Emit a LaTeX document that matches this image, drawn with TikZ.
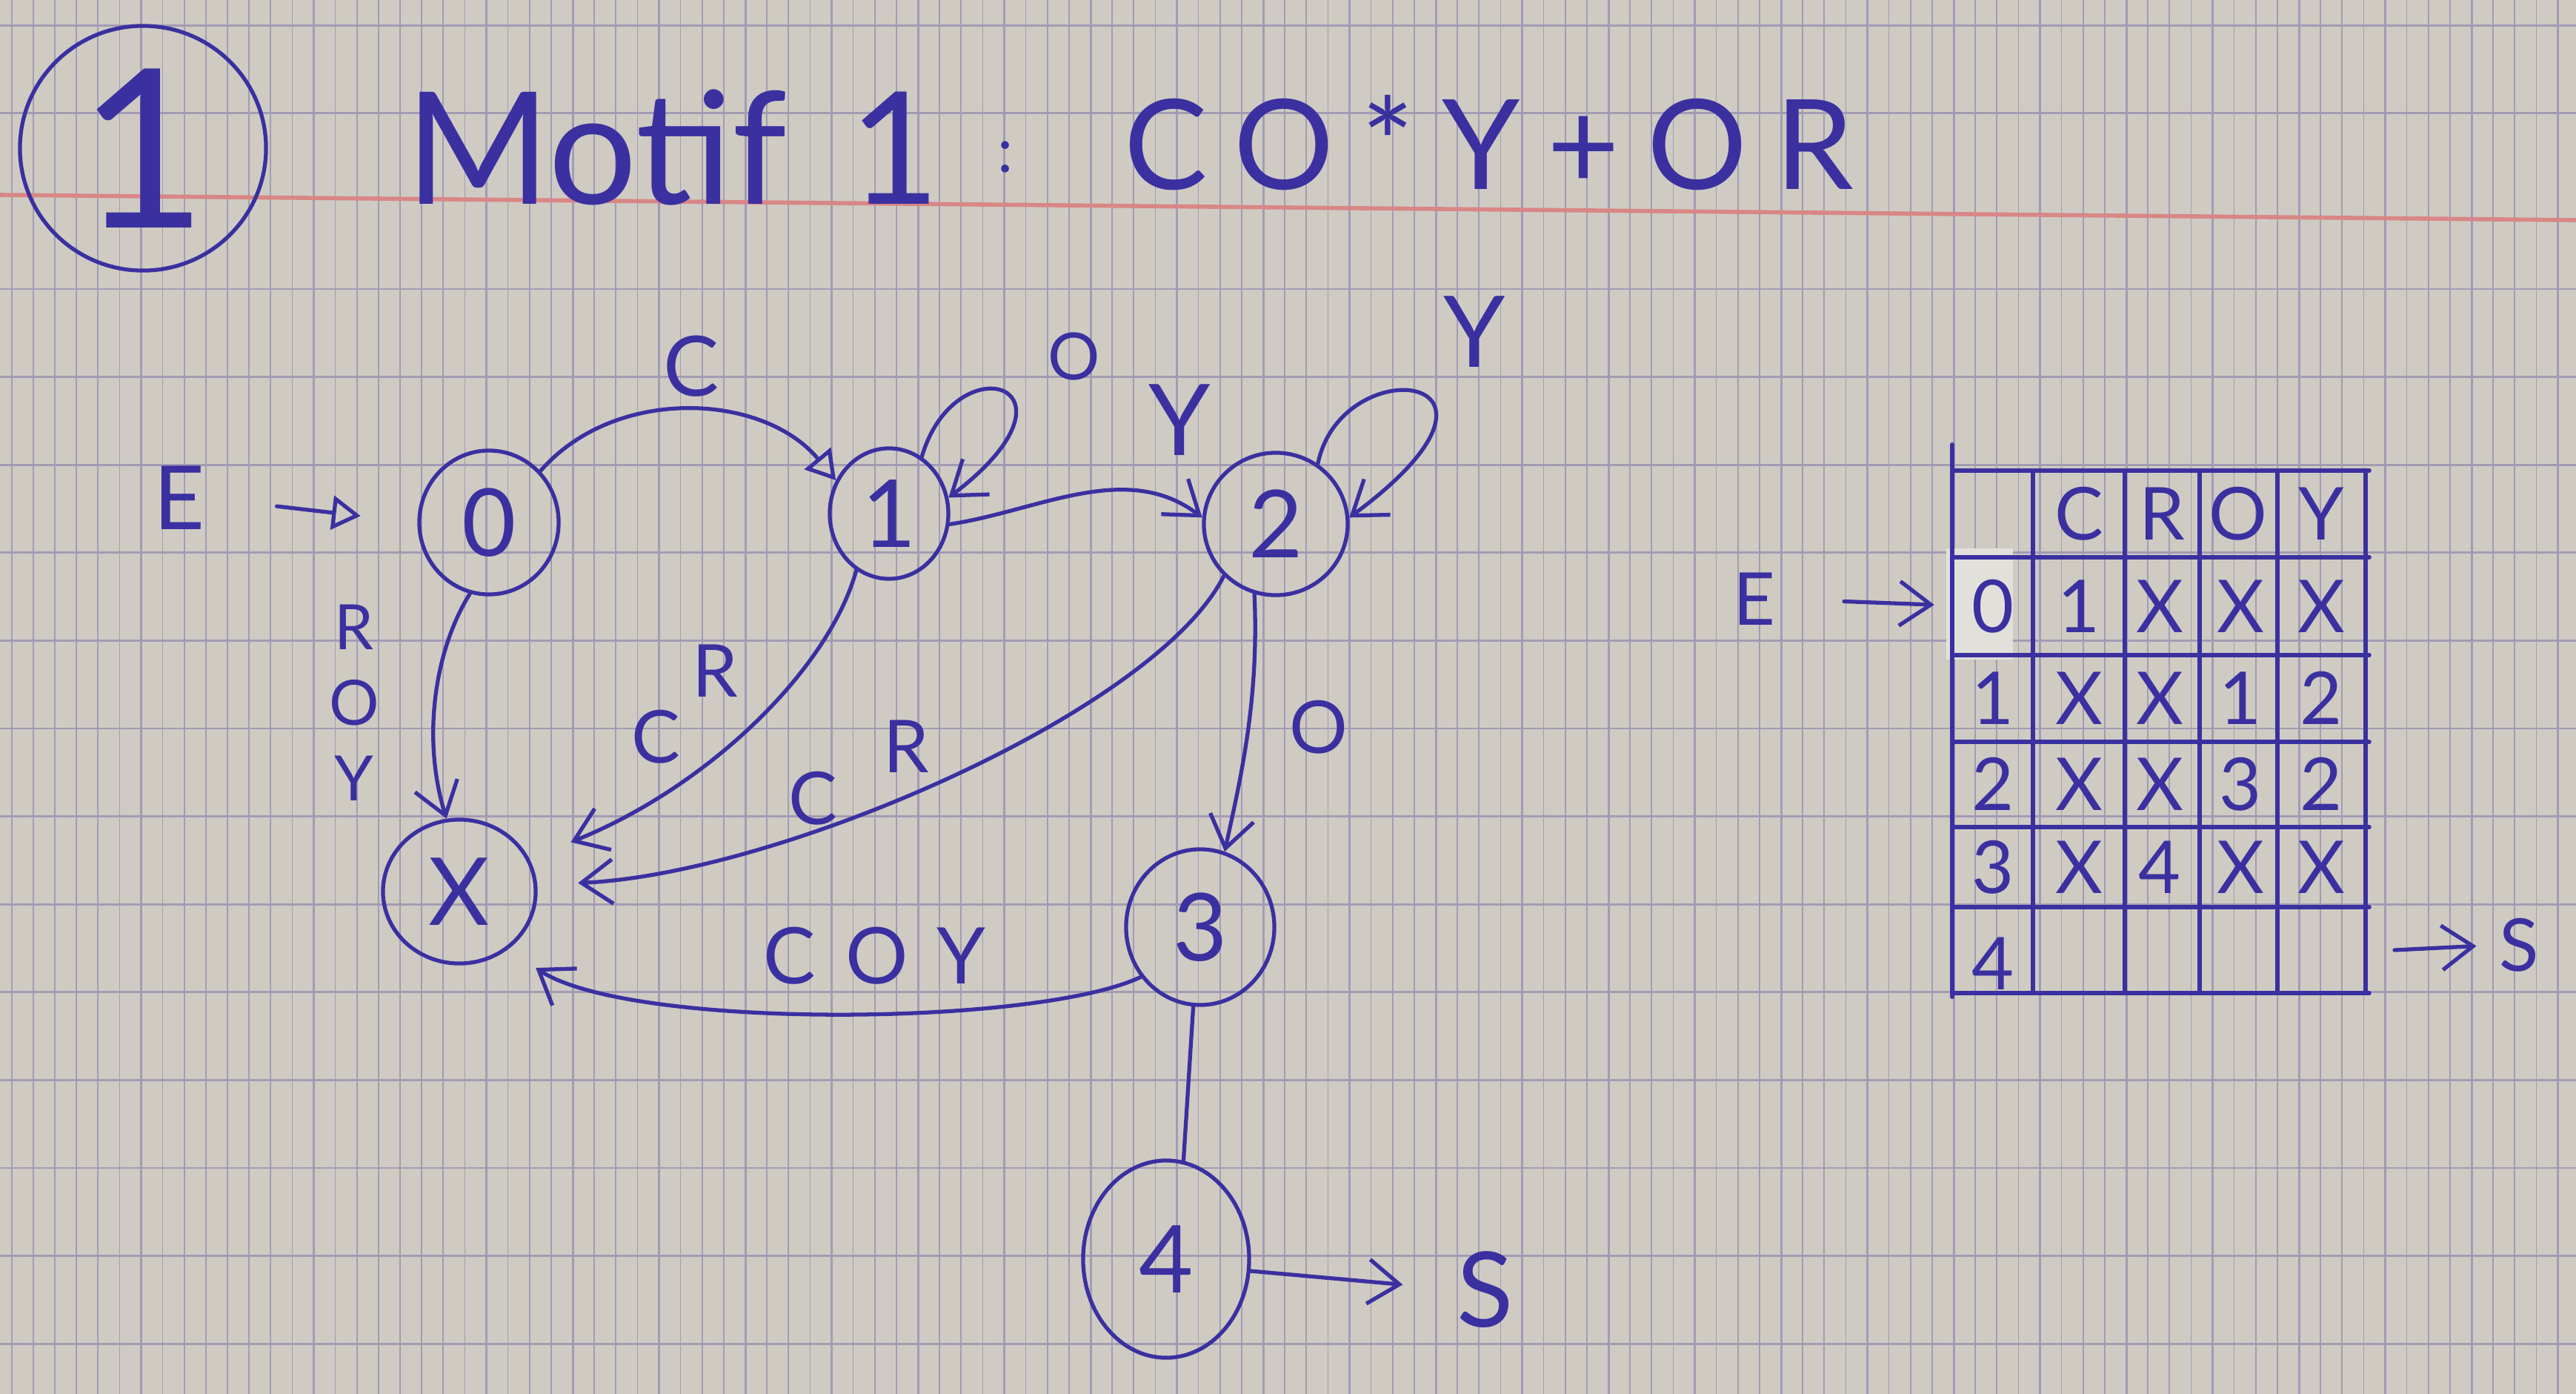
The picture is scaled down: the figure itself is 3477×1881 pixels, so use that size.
\documentclass[tikz,border=0pt]{standalone}
\usepackage{fontspec}
\setmainfont{Lato}
\usetikzlibrary{arrows.meta,shapes.geometric}
\definecolor{paper}{HTML}{CFCBC3}
\definecolor{gridc}{HTML}{A39BB4}
\definecolor{inkc}{HTML}{3A30A0}
\definecolor{redl}{HTML}{D98686}
\definecolor{patchc}{HTML}{E2E0DB}
\newcommand{\hsz}[1]{\fontsize{#1}{#1}\selectfont}
\begin{document}
\begin{tikzpicture}[x=0.01cm,y=-0.01cm,
  pen/.style={draw=inkc,line width=1.5pt,line cap=round,line join=round},
  st/.style={pen,ellipse,inner sep=0pt,text=inkc,font=\hsz{36}},
  lb/.style={text=inkc,inner sep=0pt},
  barb/.style={-{Straight Barb[length=12pt,width=17pt]}},
  tri/.style={-{Triangle[open,length=11pt,width=13pt]}},
  cell/.style={lb,font=\hsz{28}}
]
\useasboundingbox (0,0) rectangle (3477,1881);
% paper
\fill[paper] (0,0) rectangle (3477,1881);
\foreach \m in {-2,...,116} \draw[gridc,line width=0.45pt] ({74+29.125*\m},0) -- ++(0,1881);
\foreach \m in {0,...,29} \draw[gridc,line width=0.85pt] ({74+116.5*\m},0) -- ++(0,1881);
\foreach \k in {-3,-2,0,1,...,12} \draw[gridc,line width=0.8pt] (0,{390+118.6*\k}) -- (3477,{390+118.6*\k});
\draw[redl,line width=1.6pt] (0,263) -- (3477,297);

% title
\node[pen,ellipse,minimum width=3.32cm,minimum height=3.3cm,inner sep=0pt,text=inkc,font=\hsz{85}] (num) at (193,200) {1};
\node[lb,font=\hsz{60},anchor=base west] (motif) at (547,275) {Motif\hspace{0.4em}1};
\node[lb,font=\hsz{24}] (colon) at (1357,212) {:};
\node[lb,font=\hsz{48},anchor=base west] (regex) at (1517,255) {\addfontfeature{LetterSpace=22}CO*Y+OR};

% states
\node[st,minimum width=1.88cm,minimum height=1.94cm] (s0) at (660,705) {0};
\node[st,minimum width=1.6cm,minimum height=1.76cm] (s1) at (1200,693) {1};
\node[st,minimum width=1.94cm,minimum height=1.92cm] (s2) at (1722,707) {2};
\node[st,minimum width=2.06cm,minimum height=1.94cm] (sX) at (620,1203) {X};
\node[st,minimum width=2.0cm,minimum height=2.1cm] (s3) at (1620,1251) {3};
\node[st,minimum width=2.24cm,minimum height=2.66cm] (s4) at (1574,1699) {4};

% entry
\node[lb,font=\hsz{34}] (E) at (242,672) {E};
\draw[pen,tri,shorten <=0.97cm,shorten >=0.77cm] (E.east) -- (s0.west);

% transitions
\draw[pen,tri] (s0.45) .. controls (830,520) and (1030,530) .. (s1.148);
\node[lb,font=\hsz{32}] (lC01) at (933,494) {C};

\draw[pen,barb] (s1.60) .. controls (1290,460) and (1480,520) .. (s1.15);
\node[lb,font=\hsz{25}] (lO11) at (1450,481) {O};

\draw[pen,barb] (s1.-10) .. controls (1400,690) and (1520,620) .. (s2.175);
\node[lb,font=\hsz{38}] (lY12) at (1592,567) {Y};

\draw[pen,barb] (s2.55) .. controls (1810,470) and (2090,500) .. (s2.5);
\node[lb,font=\hsz{38}] (lY22) at (1990,448) {Y};

\draw[pen,barb] (s0.-105) .. controls (585,880) and (570,1000) .. (sX.100);
\node[lb,font=\fontsize{24}{29}\selectfont,align=center] (lROY) at (478,948) {R\\O\\Y};

\draw[pen,barb,shorten >=0.6cm] (s1.-120) .. controls (1120,900) and (960,1060) .. (sX.25);
\node[lb,font=\hsz{28}] (lC1X) at (885,994) {C};
\node[lb,font=\hsz{28}] (lR1X) at (965,905) {R};

\draw[pen,barb,shorten >=0.55cm] (s2.-135) .. controls (1560,960) and (1050,1180) .. (sX.5);
\node[lb,font=\hsz{28}] (lC2X) at (1097,1077) {C};
\node[lb,font=\hsz{28}] (lR2X) at (1223,1007) {R};

\draw[pen,barb] (s2.-107) .. controls (1700,950) and (1672,1060) .. (s3.72);
\node[lb,font=\hsz{28}] (lO23) at (1780,981) {O};

\draw[pen,barb,shorten >=0.45cm] (s3.-140) .. controls (1400,1385) and (850,1390) .. (sX.-50);
\node[lb,font=\hsz{30}] (lCOY) at (1180,1290) {\addfontfeature{LetterSpace=40}COY};

\draw[pen] (s3.-95) -- (s4.80);
\node[lb,font=\hsz{40}] (S) at (2005,1740) {S};
\draw[pen,barb,shorten >=0.73cm] (s4.-8) -- (S.west);

% table
\fill[patchc] (2627,740) rectangle (2717,890);
\draw[pen,line width=1.7pt] (2635,600) -- (2635,1345);
\foreach \x in {2744,2868,2969,3074,3193} \draw[pen,line width=1.6pt] (\x,635) -- (\x,1340);
\foreach \y in {635,752,884,1001,1116,1224,1340} \draw[pen,line width=1.6pt] (2635,\y) -- (3198,\y);
% header
\foreach \t/\x in {C/2806,R/2918,O/3021,Y/3133} \node[cell] (h-\t) at (\x,693) {\t};
% row labels
\foreach \t/\y in {0/818,1/942,2/1058,3/1170,4/1300} \node[cell] (r-\t) at (2690,\y) {\t};
% cells
\foreach \t [count=\i] in {1,X,X,X} \node[cell] (c0-\i) at ({2806+(\i-1)*109},818) {\t};
\foreach \t [count=\i] in {X,X,1,2} \node[cell] (c1-\i) at ({2806+(\i-1)*109},942) {\t};
\foreach \t [count=\i] in {X,X,3,2} \node[cell] (c2-\i) at ({2806+(\i-1)*109},1058) {\t};
\foreach \t [count=\i] in {X,4,X,X} \node[cell] (c3-\i) at ({2806+(\i-1)*109},1170) {\t};
% table entry / exit
\node[cell] (tE) at (2368,808) {E};
\draw[pen,barb,shorten <=0.92cm,shorten >=0.5cm] (tE.east) -- (r-0.west);
\coordinate (sfrom) at (3232,1282);
\node[cell] (tS) at (3400,1275) {S};
\draw[pen,barb,shorten >=0.3cm] (sfrom) -- (tS.west);
\end{tikzpicture}
\end{document}
